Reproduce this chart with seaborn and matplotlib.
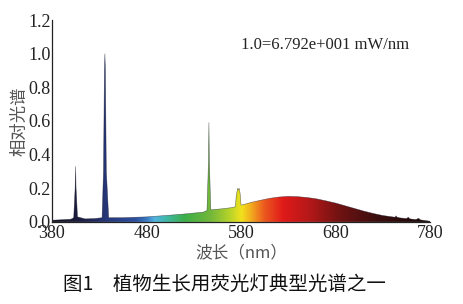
import numpy as np
import pandas as pd
import seaborn as sns
import matplotlib
matplotlib.use("Agg")
import matplotlib.pyplot as plt
from matplotlib.colors import LinearSegmentedColormap

# ---- data ----
wavelength = [380, 390, 400, 403, 404.5, 405, 405.5, 407, 415, 425, 433, 434.5, 435.5, 436, 436.5, 437.5,
              440, 455, 470, 480, 500, 520, 540, 544, 545.5, 546, 546.5, 548, 560, 570, 574, 575,
              576.5, 577, 578, 579, 580, 582, 590, 600, 610, 620, 630, 640, 650, 660, 670, 680,
              690, 700, 710, 720, 730, 740, 743, 744, 745, 748, 755, 757, 758, 760, 765, 768, 769,
              771, 775, 780]
intensity = [0.010, 0.013, 0.016, 0.025, 0.20, 0.33, 0.20, 0.03, 0.018, 0.020, 0.025, 0.30, 0.90, 1.00,
             0.90, 0.30, 0.025, 0.025, 0.028, 0.030, 0.038, 0.047, 0.058, 0.068, 0.35, 0.59, 0.35, 0.072,
             0.078, 0.085, 0.09, 0.16, 0.20, 0.19, 0.20, 0.17, 0.10, 0.102, 0.115, 0.128, 0.140, 0.148,
             0.152, 0.150, 0.145, 0.137, 0.125, 0.112, 0.096, 0.080, 0.064, 0.050, 0.038, 0.030, 0.028,
             0.036, 0.028, 0.024, 0.020, 0.028, 0.020, 0.017, 0.014, 0.022, 0.014, 0.011, 0.008, 0.004]

x_ticks = [380, 480, 580, 680, 780]
y_ticks = [0.0, 0.2, 0.4, 0.6, 0.8, 1.0, 1.2]

annotation = "1.0=6.792e+001 mW/nm"
y_label = "相对光谱"
x_label = "波长（nm）"
caption = "图1　植物生长用荧光灯典型光谱之一"

df = pd.DataFrame({"wavelength": wavelength, "intensity": intensity})

sns.set_theme(style="white")
plt.rcParams["font.family"] = ["Liberation Serif", "Noto Sans CJK SC"]

fig = plt.figure(figsize=(4.64, 3.04), dpi=100)
ax = fig.add_axes([0.112, 0.270, 0.815, 0.664])

# outline via seaborn
sns.lineplot(data=df, x="wavelength", y="intensity", ax=ax, color="#1a1a2a", lw=0.4, alpha=0.6)

# spectral gradient clipped to the filled area
spec = LinearSegmentedColormap.from_list("spec", [
    (0.00, "#141420"), (0.08, "#1c1e45"), (0.14, "#263676"), (0.22, "#2d4f9e"),
    (0.25, "#3a7cc4"), (0.27, "#52b4e0"), (0.30, "#3fb8a8"), (0.35, "#3cae48"),
    (0.42, "#74b83a"), (0.47, "#b8d42a"), (0.50, "#f2e21e"), (0.52, "#f2b81e"),
    (0.56, "#ec5a1e"), (0.61, "#e01a1a"), (0.68, "#b41818"), (0.76, "#701212"),
    (0.86, "#3a0e0e"), (1.00, "#180808")])
poly = ax.fill_between(df["wavelength"], df["intensity"], 0, color="none", lw=0)
grad = np.linspace(0, 1, 512).reshape(1, -1)
img = ax.imshow(grad, cmap=spec, aspect="auto", extent=[380, 780, 0, 1.2],
                origin="lower", zorder=1)
clip = poly.get_paths()[0]
img.set_clip_path(clip, transform=ax.transData)

ax.set_xlim(380, 780)
ax.set_ylim(0, 1.2)
ax.set_xticks(x_ticks)
ax.set_yticks(y_ticks)
ax.set_yticklabels([f"{v:.1f}" for v in y_ticks])
ax.tick_params(axis="both", direction="in", length=3, width=0.8, labelsize=13,
               colors="#222222", pad=1)
ax.tick_params(axis="x", pad=2)
for s in ["top", "right"]:
    ax.spines[s].set_visible(False)
for s in ["left", "bottom"]:
    ax.spines[s].set_color("#222222")
    ax.spines[s].set_linewidth(0.9)

ax.set_xlabel(x_label, fontsize=12, color="#555555", labelpad=2,
              family=["Noto Sans CJK SC", "Liberation Serif"])
ax.set_ylabel(y_label, fontsize=12.5, color="#555555", labelpad=0,
              family=["Noto Sans CJK SC", "Liberation Serif"])
ax.text(0.50, 0.855, annotation, transform=ax.transAxes, fontsize=12, color="#222222",
        family="Liberation Serif")

fig.text(0.135, 0.045, caption, fontsize=14, color="#111111",
         family=["Noto Sans CJK SC", "DejaVu Sans"], weight="medium")

fig.savefig("out.png", dpi=100)
